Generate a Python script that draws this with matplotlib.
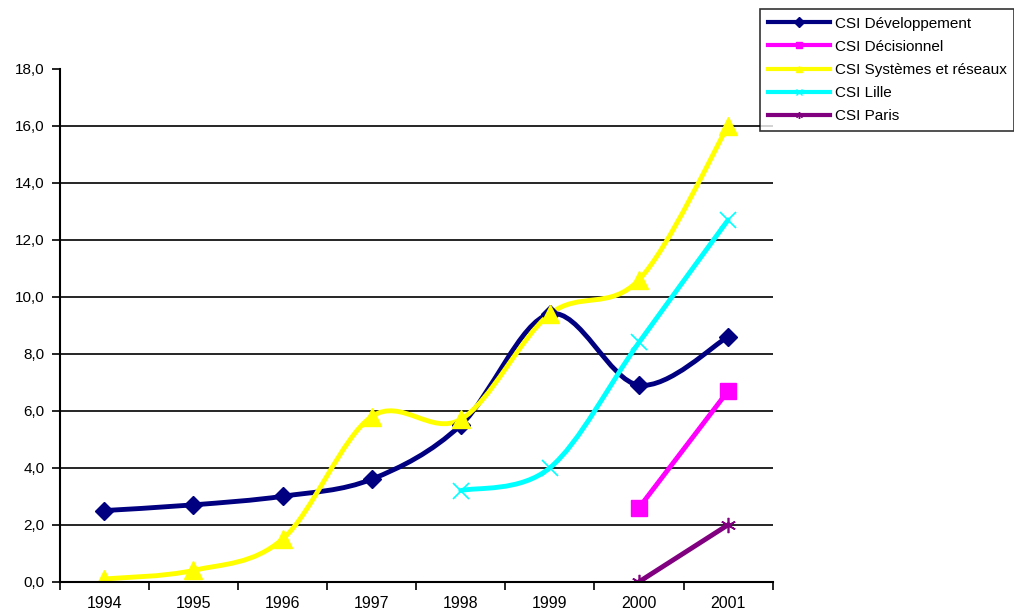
import matplotlib.pyplot as plt
from matplotlib.path import Path
from matplotlib.patches import PathPatch
from matplotlib.lines import Line2D
from matplotlib.ticker import FuncFormatter

plt.rcParams['font.family'] = ['Liberation Sans', 'DejaVu Sans']

years = ['1994', '1995', '1996', '1997', '1998', '1999', '2000', '2001']

# (first year index, values)
dev = (0, [2.5, 2.7, 3.0, 3.6, 5.5, 9.4, 6.9, 8.6])
deci = (6, [2.6, 6.7])
sysres = (0, [0.1, 0.4, 1.5, 5.8, 5.7, 9.4, 10.6, 16.0])
lille = (4, [3.2, 4.0, 8.4, 12.7])
paris = (6, [0.0, 2.0])

names = ['CSI Développement', 'CSI Décisionnel', 'CSI Systèmes et réseaux',
         'CSI Lille', 'CSI Paris']
series = [dev, deci, sysres, lille, paris]
colors = ['#000080', '#FF00FF', '#FFFF00', '#00FFFF', '#800080']
markers = ['D', 's', '^', 'x', (6, 2, 0)]
msizes = [9, 12, 13, 11, 11]


def smooth_path(xs, ys):
    # Excel-like smoothed line: Catmull-Rom converted to cubic Bezier
    pts = list(zip(xs, ys))
    n = len(pts)
    verts = [pts[0]]
    codes = [Path.MOVETO]
    for i in range(n - 1):
        p0 = pts[i - 1] if i > 0 else pts[i]
        p1 = pts[i]
        p2 = pts[i + 1]
        p3 = pts[i + 2] if i + 2 < n else pts[i + 1]
        c1 = (p1[0] + (p2[0] - p0[0]) / 6, p1[1] + (p2[1] - p0[1]) / 6)
        c2 = (p2[0] - (p3[0] - p1[0]) / 6, p2[1] - (p3[1] - p1[1]) / 6)
        verts += [c1, c2, p2]
        codes += [Path.CURVE4] * 3
    return Path(verts, codes)


fig = plt.figure(figsize=(10.14, 6.15), dpi=100)
ax = fig.add_axes([0.059, 0.054, 0.703, 0.834])

for (start, vals), col, mk, ms in zip(series, colors, markers, msizes):
    xs = list(range(start, start + len(vals)))
    if len(vals) > 2:
        ax.add_patch(PathPatch(smooth_path(xs, vals), fill=False,
                               edgecolor=col, lw=3.5, capstyle='round',
                               joinstyle='round'))
    else:
        ax.plot(xs, vals, color=col, lw=3.5)
    mew = 1.2 if mk in ('x',) or isinstance(mk, tuple) else 1
    ax.plot(xs, vals, ls='none', marker=mk, ms=ms, color=col, mec=col, mew=mew)

ax.set_xlim(-0.5, 7.5)
ax.set_ylim(0, 18)
ax.set_yticks(range(0, 19, 2))
ax.yaxis.set_major_formatter(FuncFormatter(lambda v, p: f'{v:.1f}'.replace('.', ',')))
ax.set_xticks(range(len(years)))
ax.set_xticklabels(years)
ax.set_xticks([i - 0.5 for i in range(len(years) + 1)], minor=True)
ax.tick_params(axis='x', which='major', length=0, pad=10, labelsize=11.5)
ax.tick_params(axis='x', which='minor', length=6, width=1.2, direction='out')
ax.tick_params(axis='y', length=6, width=1.2, labelsize=11, pad=5)

for y in range(2, 18, 2):
    ax.axhline(y, color='black', lw=1.2, zorder=0)

ax.spines['top'].set_visible(False)
ax.spines['right'].set_visible(False)
ax.spines['left'].set_linewidth(1.5)
ax.spines['bottom'].set_linewidth(1.5)

handles = [Line2D([], [], color=c, lw=3, marker=m, ms=5, mec=c)
           for c, m in zip(colors, markers)]
leg = fig.legend(handles, names, loc='upper left',
                 bbox_to_anchor=(760 / 1014, 1 - 9 / 615),
                 fontsize=11, frameon=True, fancybox=False, borderpad=0.5,
                 handlelength=4.1, handletextpad=0.3, labelspacing=0.6,
                 borderaxespad=0)
leg.get_frame().set_edgecolor('black')
leg.get_frame().set_linewidth(1.2)

fig.savefig('out.png', dpi=100)
